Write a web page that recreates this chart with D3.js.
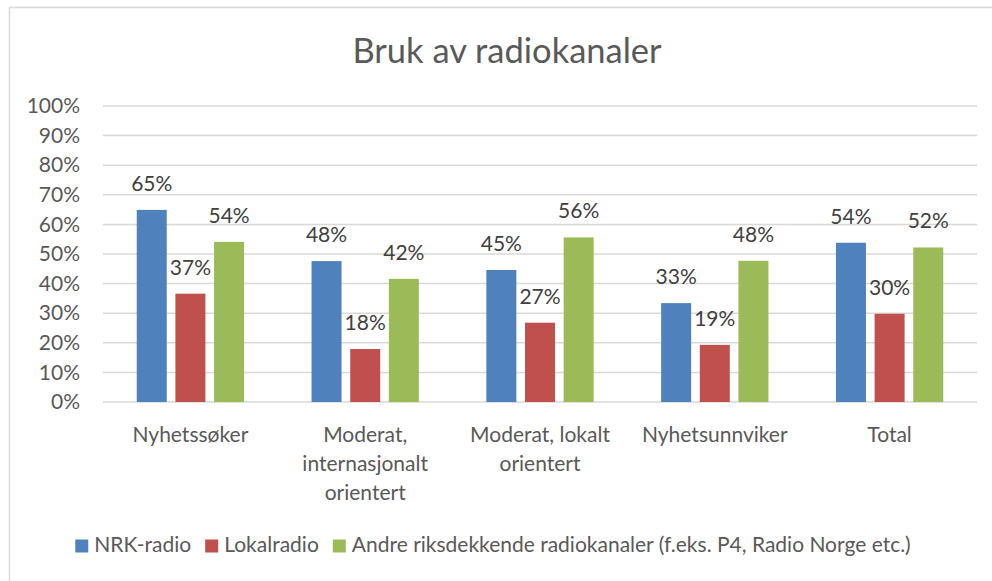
<!DOCTYPE html>
<html>
<head>
<meta charset="utf-8">
<script src="https://cdn.jsdelivr.net/npm/d3@7"></script>
<style>
  html, body { margin: 0; padding: 0; background: #fff; }
  text { font-family: Lato, "Open Sans", sans-serif; }
</style>
</head>
<body>
<svg id="chart" width="992" height="581"></svg>
<script>
var title = "Bruk av radiokanaler";
var categories = ["Nyhetssøker", "Moderat, internasjonalt orientert", "Moderat, lokalt orientert", "Nyhetsunnviker", "Total"];
var series = ["NRK-radio", "Lokalradio", "Andre riksdekkende radiokanaler (f.eks. P4, Radio Norge etc.)"];
var nrk = [0.649, 0.476, 0.446, 0.334, 0.538];
var lokal = [0.366, 0.179, 0.268, 0.193, 0.298];
var andre = [0.541, 0.416, 0.556, 0.477, 0.522];
var yTicks = [0, 0.1, 0.2, 0.3, 0.4, 0.5, 0.6, 0.7, 0.8, 0.9, 1];
var colors = ["#4F81BD", "#C0504D", "#9BBB59"];

var values = [nrk, lokal, andre];
var rows = [];
categories.forEach(function (c, i) {
    series.forEach(function (s, j) {
        rows.push({cat: c, ser: s, v: values[j][i], color: colors[j]});
    });
});

var svg = d3.select("#chart");
var plotLeft = 103, plotRight = 977, plotTop = 106, plotBottom = 402;

// frame
svg.append("rect")
    .attr("x", 9.5).attr("y", 7.5)
    .attr("width", 1000).attr("height", 600)
    .attr("fill", "#fff")
    .attr("stroke", "#d9d9d9")
    .attr("stroke-width", 1.5);

svg.append("text")
    .attr("x", 507)
    .attr("y", 63)
    .attr("text-anchor", "middle")
    .attr("font-size", "34.5px")
    .attr("fill", "#595959")
    .text(title);

var x0 = d3.scaleBand().domain(categories).range([plotLeft, plotRight]);
var x1 = d3.scaleBand().domain(series).range([0, x0.bandwidth()])
    .paddingInner(0.224).paddingOuter(0.873);
var y = d3.scaleLinear().domain([0, 1]).range([plotBottom, plotTop]);

// grid
svg.append("g")
    .selectAll("line")
    .data(yTicks)
    .enter()
    .append("line")
    .attr("x1", plotLeft).attr("x2", plotRight)
    .attr("y1", function (d) { return y(d); })
    .attr("y2", function (d) { return y(d); })
    .attr("stroke", "#d9d9d9")
    .attr("stroke-width", 1.5);

// y axis labels
var yAxis = d3.axisLeft(y).tickValues(yTicks).tickFormat(d3.format(".0%")).tickSize(0).tickPadding(23);
var ya = svg.append("g").attr("transform", "translate(" + plotLeft + ",0)").call(yAxis);
ya.select(".domain").remove();
ya.selectAll("text")
    .attr("font-size", "21px")
    .attr("fill", "#595959")
    .attr("font-family", "Lato, 'Open Sans', sans-serif");

// bars
var bars = svg.append("g").selectAll("rect").data(rows).enter();
bars.append("rect")
    .attr("x", function (d) { return x0(d.cat) + x1(d.ser); })
    .attr("y", function (d) { return y(d.v); })
    .attr("width", x1.bandwidth())
    .attr("height", function (d) { return plotBottom - y(d.v); })
    .attr("fill", function (d) { return d.color; });

bars.append("text")
    .attr("x", function (d) { return x0(d.cat) + x1(d.ser) + x1.bandwidth() / 2; })
    .attr("y", function (d) { return y(d.v) - 19; })
    .attr("text-anchor", "middle")
    .attr("font-size", "21px")
    .attr("fill", "#404040")
    .text(function (d) { return d3.format(".0%")(d.v); });

// x labels, wrapped
var xl = svg.append("g").selectAll("text").data(categories).enter()
    .append("text")
    .attr("x", function (d) { return x0(d) + x0.bandwidth() / 2; })
    .attr("y", 442)
    .attr("text-anchor", "middle")
    .attr("font-size", "21px")
    .attr("fill", "#595959");

xl.each(function (d) {
    var t = d3.select(this);
    var words = d.split(" "), line = [];
    var tspan = t.append("tspan").attr("x", t.attr("x")).attr("dy", 0);
    words.forEach(function (w) {
        line.push(w);
        tspan.text(line.join(" "));
        if (tspan.node().getComputedTextLength() > 168 && line.length > 1) {
            line.pop();
            tspan.text(line.join(" "));
            line = [w];
            tspan = t.append("tspan").attr("x", t.attr("x")).attr("dy", "29px").text(w);
        }
    });
});

// legend
var legend = svg.append("g");
var lx = 0;
series.forEach(function (s, i) {
    legend.append("rect")
        .attr("x", lx).attr("y", 539.5)
        .attr("width", 13).attr("height", 13)
        .attr("fill", colors[i]);
    var t = legend.append("text")
        .attr("x", lx + 19).attr("y", 552)
        .attr("font-size", "21px")
        .attr("fill", "#595959")
        .text(s);
    lx += 19 + t.node().getComputedTextLength() + 14;
});
var lw = lx - 14;
legend.attr("transform", "translate(" + (493 - lw / 2) + ",0)");
</script>
</body>
</html>
